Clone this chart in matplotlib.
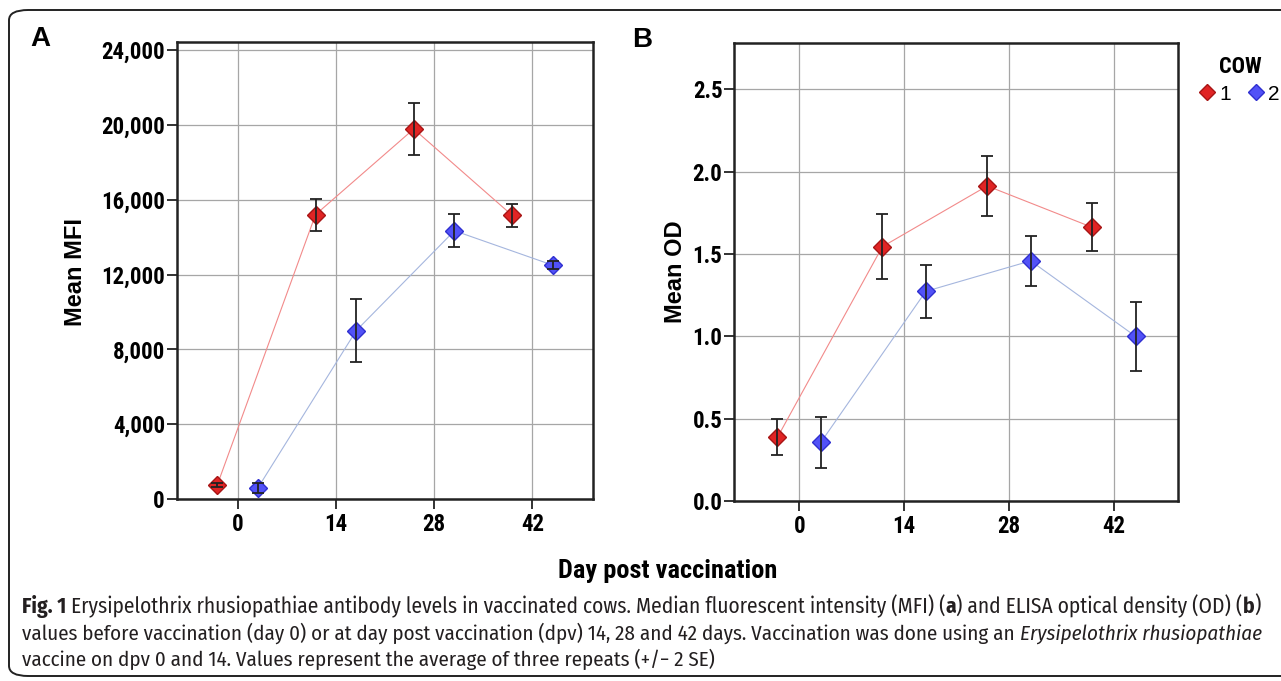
# -*- coding: utf-8 -*-

import matplotlib
matplotlib.use("Agg")
from matplotlib import pyplot as plt
from matplotlib import font_manager
from matplotlib.lines import Line2D
from matplotlib.patches import FancyBboxPatch
from matplotlib.ticker import StrMethodFormatter

# dados
days = [0, 14, 28, 42]
cows = ["1", "2"]

mfi_cow1 = [750, 15200, 19780, 15170]
mfi_cow1_err = [110, 855, 1415, 625]
mfi_cow2 = [600, 9000, 14340, 12500]
mfi_cow2_err = [260, 1700, 880, 200]

od_cow1 = [0.387, 1.544, 1.913, 1.662]
od_cow1_err = [0.11, 0.197, 0.184, 0.145]
od_cow2 = [0.357, 1.273, 1.458, 1.0]
od_cow2_err = [0.155, 0.16, 0.151, 0.21]

W, H = 1281, 681
names = {f.name for f in font_manager.fontManager.ttflist}


def escolhe(*fams):
	for f in fams:
		if f in names:
			return f
	return "DejaVu Sans"


narrow = escolhe("Roboto Condensed", "PT Sans Narrow", "Archivo Narrow")
wide = escolhe("Liberation Sans", "Roboto")
captf = escolhe("Fira Sans Condensed", "Open Sans Condensed", "Roboto Condensed")

red_fill, red_edge, red_line = "#e02424", "#a81515", "#f28a8a"
blue_fill, blue_edge, blue_line = "#5252f7", "#2f2fd0", "#a5b6de"
dodge = 2.9

fig = plt.figure(figsize=(W / 100, H / 100), dpi=100)


def painel(rect, y1, e1, y2, e2, ymax, fmt, yticks, ylabel, lab_x):
	ax = fig.add_axes(rect)
	x1 = [d - dodge for d in days]
	x2 = [d + dodge for d in days]
	for xs, ys, es, fc, ec, lc in [(x1, y1, e1, red_fill, red_edge, red_line),
								   (x2, y2, e2, blue_fill, blue_edge, blue_line)]:
		ax.plot(xs, ys, color=lc, lw=0.8, zorder=2)
		ax.plot(xs, ys, ls="none", marker="D", ms=9.5, mfc=fc, mec=ec, mew=1.0, zorder=3)
		ax.errorbar(xs, ys, yerr=es, fmt="none", ecolor="#222222", elinewidth=1.3,
					capsize=4, capthick=1.3, zorder=4)
	ax.set_xlim(-8.68, 50.6)
	ax.set_ylim(0, ymax)
	ax.set_xticks(days)
	ax.set_yticks(yticks)
	ax.yaxis.set_major_formatter(StrMethodFormatter(fmt))
	ax.grid(True, color="#a6a6a6", lw=0.9)
	ax.set_axisbelow(True)
	for sp in ax.spines.values():
		sp.set_linewidth(1.8)
		sp.set_color("#222222")
	ax.tick_params(direction="out", length=7, width=1.3, color="#222222", pad=1.5,
				   labelsize=16.5)
	ax.tick_params(axis="x", pad=3)
	for lbl in ax.get_xticklabels() + ax.get_yticklabels():
		lbl.set_fontfamily(narrow)
		lbl.set_fontweight("bold")
	fig.text(lab_x / W, 1 - 272 / H, ylabel, rotation=90, ha="center", va="center",
			 fontsize=17, fontweight="bold", family=wide)
	return ax


ax1 = painel([176.7 / W, 1 - 499 / H, 416 / W, 457 / H], mfi_cow1, mfi_cow1_err,
			 mfi_cow2, mfi_cow2_err, 24430, "{x:,.0f}",
			 [0, 4000, 8000, 12000, 16000, 20000, 24000], "Mean MFI", 76)
ax2 = painel([734.2 / W, 1 - 501 / H, 444 / W, 457.7 / H], od_cow1, od_cow1_err,
			 od_cow2, od_cow2_err, 2.779, "{x:.1f}",
			 [0.0, 0.5, 1.0, 1.5, 2.0, 2.5], "Mean OD", 675)

# letras dos painéis
fig.text(40 / W, 1 - 39 / H, "A", fontsize=20, fontweight="bold", family=wide,
		 ha="center", va="center")
fig.text(642 / W, 1 - 40 / H, "B", fontsize=20, fontweight="bold", family=wide,
		 ha="center", va="center")

fig.text(668 / W, 1 - 571 / H, "Day post vaccination", fontsize=19, fontweight="bold",
		 family=narrow, ha="center", va="center")

# legenda
hands = [Line2D([], [], ls="none", marker="D", ms=8, mfc=red_fill, mec=red_edge),
		 Line2D([], [], ls="none", marker="D", ms=8, mfc=blue_fill, mec=blue_edge)]
leg = ax2.legend(hands, cows, title="COW", ncol=2, loc="upper left",
				 bbox_to_anchor=(1190 / W, 1 - 46 / H), bbox_transform=fig.transFigure,
				 frameon=False, handlelength=0.6, handletextpad=0.3, columnspacing=0.9,
				 borderpad=0, labelspacing=0.3, prop={"family": wide, "size": 15})
leg.get_title().set_fontweight("bold")
leg.get_title().set_fontfamily(narrow)
leg.get_title().set_fontsize(16)

# moldura arredondada
box = FancyBboxPatch((9 / W, 1 - 676 / H), 1400 / W, 666 / H,
					 boxstyle="round,pad=0,rounding_size=0.015",
					 transform=fig.transFigure, fill=False, lw=1.4, ec="#222222")
fig.patches.append(box)

# legenda da figura (texto)
fig.canvas.draw()
r = fig.canvas.get_renderer()


def largura(s, size, weight, style):
	t = fig.text(0, 0, s, fontsize=size, fontweight=weight, style=style, family=captf)
	w = t.get_window_extent(renderer=r).width
	t.remove()
	return w


def espaco(size):
	return largura("x x", size, "normal", "normal") - largura("xx", size, "normal", "normal")


def total(parts, size):
	w = 0
	for i, (s, wt, st, sp) in enumerate(parts):
		if sp and i > 0:
			w += espaco(size)
		w += largura(s, size, wt, st)
	return w


def linha(parts, x0, base, size):
	x = x0
	for i, (s, wt, st, sp) in enumerate(parts):
		if sp and i > 0:
			x += espaco(size)
		fig.text(x / W, 1 - base / H, s, fontsize=size, fontweight=wt, style=st,
				 family=captf, va="baseline", color="#231f20")
		x += largura(s, size, wt, st)


l1 = [("Fig. 1", "bold", "normal", False),
	  ("Erysipelothrix rhusiopathiae antibody levels in vaccinated cows. Median fluorescent intensity (MFI) (", "normal", "normal", True),
	  ("a", "bold", "normal", False),
	  (") and ELISA optical density (OD) (", "normal", "normal", False),
	  ("b", "bold", "normal", False),
	  (")", "normal", "normal", False)]
l2 = [("values before vaccination (day 0) or at day post vaccination (dpv) 14, 28 and 42 days. Vaccination was done using an", "normal", "normal", False),
	  ("Erysipelothrix rhusiopathiae", "normal", "italic", True)]
l3 = [("vaccine on dpv 0 and 14. Values represent the average of three repeats (+/\u2212 2 SE)", "normal", "normal", False)]

s1 = 10 * 1240 / total(l1, 10)
s2 = 10 * 1238 / total(l2, 10)
linha(l1, 22, 613, s1)
linha(l2, 22, 640, s2)
linha(l3, 22, 666, s2)

plt.savefig("out.png", dpi=100)
